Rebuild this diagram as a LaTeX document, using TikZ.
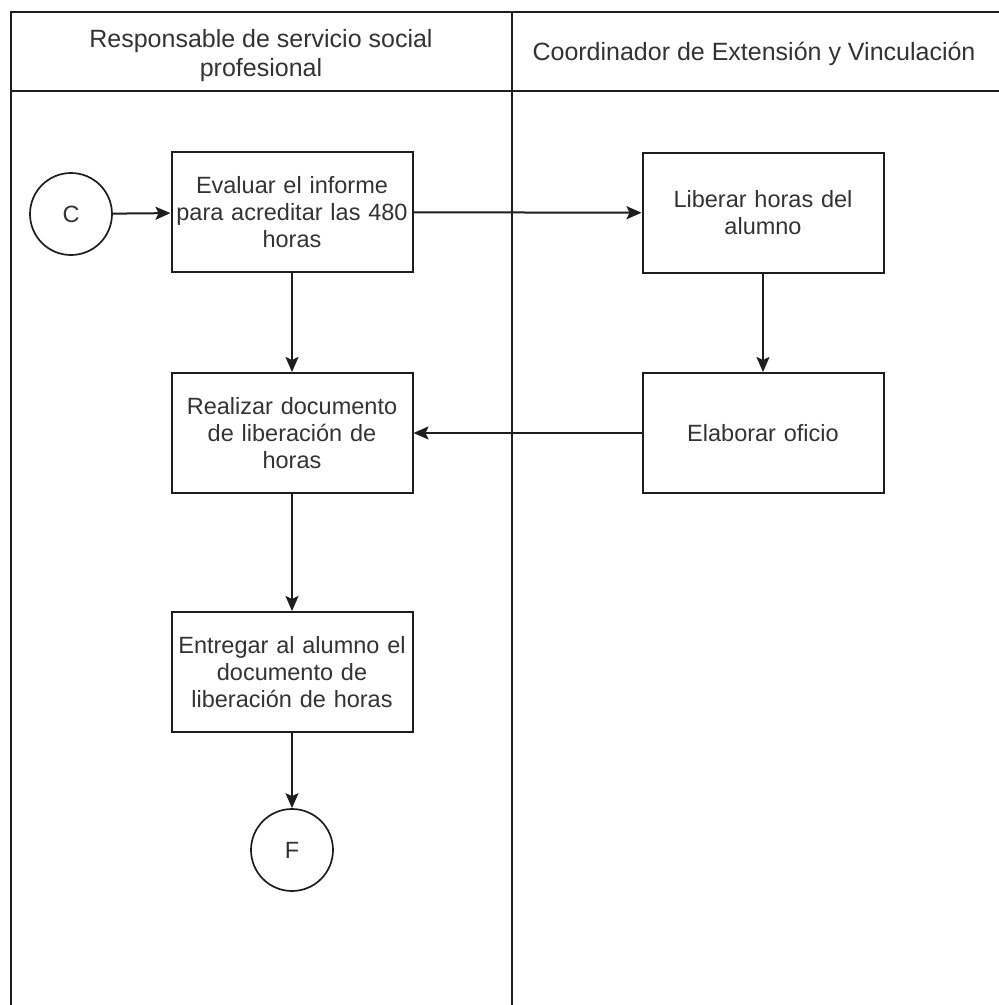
\documentclass[tikz,border=0pt]{standalone}
\usepackage{fontspec}
\setmainfont{Liberation Sans}
\usetikzlibrary{arrows.meta}
\definecolor{txt}{HTML}{333333}
\definecolor{ln}{HTML}{1E1E1E}
\tikzset{
  lane/.style={draw=ln, line width=2pt},
  stepbox/.style={draw=ln, line width=2pt, rectangle, minimum width=241pt, minimum height=120pt, text width=238pt, align=center, inner sep=0pt, font=\fontsize{23.5}{27}\selectfont, text=txt},
  conn/.style={circle, draw=ln, line width=1.7pt, minimum size=82pt, inner sep=0pt, font=\fontsize{23.5}{27}\selectfont, text=txt},
  flow/.style={draw=ln, line width=2pt, -{Stealth[length=15pt,width=13pt,inset=3pt]}},
  hdr/.style={align=center, font=\fontsize{25}{29}\selectfont, text=txt, inner sep=0pt}
}
\begin{document}
\begin{tikzpicture}[x=1pt,y=-1pt]
\useasboundingbox (0,0) rectangle (999,1005);
\fill[white] (0,0) rectangle (999,1005);
% swimlane table
\draw[lane] (999,12) -- (11,12) -- (11,1005);
\draw[lane] (11,91) -- (999,91);
\draw[lane] (512,12) -- (512,1005);
\node[hdr] (h1) at (261,56) {Responsable de servicio social\\profesional};
\node[hdr] (h2) at (754,54) {Coordinador de Extensión y Vinculación};
% nodes
\node[conn] (C) at (71,214) {C};
\node[stepbox] (b1) at (292,212) {Evaluar el informe\\para acreditar las 480\\horas};
\node[stepbox] (b2) at (763,213) {Liberar horas del\\alumno};
\node[stepbox] (b3) at (292,433) {Realizar documento\\de liberación de\\horas};
\node[stepbox] (b4) at (763,433) {Elaborar oficio};
\node[stepbox] (b5) at (292,672) {Entregar al alumno el\\documento de\\liberación de horas};
\node[conn] (F) at (292,850) {F};
% connectors
\draw[flow] (C) -- (b1);
\draw[flow] (b1) -- (b2);
\draw[flow] (b1) -- (b3);
\draw[flow] (b2) -- (b4);
\draw[flow] (b4) -- (b3);
\draw[flow] (b3) -- (b5);
\draw[flow] (b5) -- (F);
\end{tikzpicture}
\end{document}
